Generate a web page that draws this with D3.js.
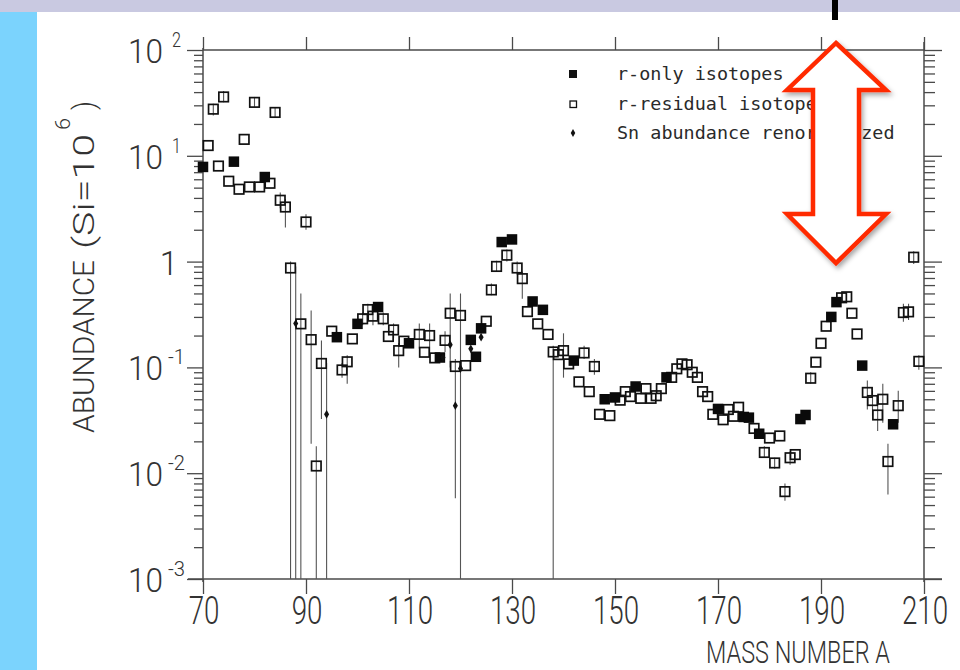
<!DOCTYPE html>
<html>
<head>
<meta charset="utf-8">
<script src="https://cdn.jsdelivr.net/npm/d3@7"></script>
<style>
  html, body { margin: 0; padding: 0; background: #fff; }
  svg { display: block; }
  .lbl { font-family: Roboto, "Open Sans", "Liberation Sans", sans-serif; font-weight: 300; fill: #333; }
  .leg { font-family: "DejaVu Sans Mono", "Liberation Mono", monospace; fill: #2a2a2a; }
</style>
</head>
<body>
<svg id="chart" width="960" height="670"></svg>
<script>
// ---------------- data ----------------
const xTicks = [70, 90, 110, 130, 150, 170, 190, 210];
const yMajor = [1e-3, 1e-2, 1e-1, 1, 10, 100];
const yTickLabels = [["10", "-3"], ["10", "-2"], ["10", "-1"], ["1", ""], ["10", "1"], ["10", "2"]];

// r-only isotopes (filled squares): [A, abundance]
const rOnly = [
  [70, 7.85], [76, 8.8], [82, 6.3], [96, 0.193], [100, 0.258], [104, 0.372],
  [110, 0.169], [116, 0.124], [122, 0.182], [123, 0.126], [124, 0.234],
  [128, 1.53], [130, 1.62], [134, 0.42], [136, 0.35], [142, 0.116],
  [148, 0.050], [150, 0.052], [154, 0.066], [160, 0.0805], [170, 0.0405],
  [175, 0.034], [176, 0.0335], [178, 0.0236], [186, 0.0325], [187, 0.0355],
  [192, 0.30], [193, 0.414], [198, 0.104], [204, 0.029]
];

// r-residual isotopes (open squares): [A, abundance]
const rResidual = [
  [71, 12.5], [72, 27.6], [73, 8.0], [74, 36], [75, 5.75], [77, 4.83], [78, 14.3],
  [79, 5.08], [80, 32], [81, 5.08], [83, 5.5], [84, 25.7], [85, 3.8], [86, 3.28],
  [87, 0.87], [89, 0.258], [90, 2.37], [91, 0.183], [92, 0.0117], [93, 0.109],
  [95, 0.22], [97, 0.0946], [98, 0.113], [99, 0.186], [101, 0.288], [102, 0.352],
  [103, 0.305], [105, 0.288], [106, 0.196], [107, 0.226], [108, 0.144], [109, 0.177],
  [112, 0.205], [113, 0.139], [114, 0.200], [115, 0.123], [117, 0.180], [118, 0.325],
  [119, 0.102], [120, 0.310], [121, 0.104], [125, 0.273], [126, 0.54], [127, 0.90],
  [129, 1.15], [131, 0.87], [132, 0.69], [133, 0.337], [135, 0.258], [137, 0.205],
  [138, 0.140], [139, 0.132], [140, 0.144], [141, 0.108], [143, 0.073], [144, 0.137],
  [145, 0.059], [146, 0.102], [147, 0.036], [149, 0.035], [151, 0.049], [152, 0.059],
  [153, 0.053], [155, 0.051], [156, 0.063], [157, 0.051], [158, 0.054], [159, 0.063],
  [161, 0.0805], [162, 0.097], [163, 0.108], [164, 0.106], [165, 0.090], [166, 0.0805],
  [167, 0.059], [168, 0.053], [169, 0.036], [171, 0.032], [172, 0.040], [173, 0.0345],
  [174, 0.042], [177, 0.0265], [179, 0.0157], [180, 0.0215], [181, 0.0125], [182, 0.0225],
  [183, 0.0067], [184, 0.014], [185, 0.015], [188, 0.079], [189, 0.112], [190, 0.169],
  [191, 0.245], [194, 0.455], [195, 0.465], [196, 0.325], [197, 0.207], [199, 0.058],
  [200, 0.0486], [201, 0.0355], [202, 0.050], [203, 0.0129], [205, 0.0435],
  [206, 0.33], [207, 0.335], [208, 1.10], [209, 0.114]
];

// Sn abundance renormalized (small diamonds): [A, abundance]
const snRenorm = [
  [88, 0.26], [94, 0.036], [116.6, 0.124], [118, 0.164], [119, 0.0435],
  [120, 0.0975], [122, 0.150], [124, 0.193]
];

// error bars: [A, low, high]
const errBars = [
  [72, 24, 31], [74, 32, 41], [80, 29, 36], [84, 23, 29], [85, 3.2, 4.5], [86, 2.1, 3.9],
  [87, 1e-4, 1.0], [88, 1e-4, 0.9], [89, 1e-4, 0.5], [90, 2.0, 2.8], [91, 0.019, 0.345],
  [92, 1e-4, 0.018], [93, 0.0325, 0.18], [94, 1e-4, 0.11], [97, 0.08, 0.11], [98, 0.07, 0.13],
  [101, 0.25, 0.33], [102, 0.30, 0.40], [103, 0.25, 0.36], [105, 0.25, 0.33], [107, 0.19, 0.26],
  [108, 0.10, 0.17], [112, 0.15, 0.26], [114, 0.13, 0.26], [117, 0.14, 0.22], [118, 0.10, 0.50],
  [119, 0.0058, 0.12], [120, 1e-4, 0.50], [126, 0.48, 0.62], [127, 0.80, 1.02], [129, 1.0, 1.3],
  [131, 0.75, 1.0], [132, 0.445, 0.80], [138, 1e-4, 0.16], [140, 0.08, 0.21], [144, 0.12, 0.16],
  [146, 0.085, 0.12], [179, 0.014, 0.018], [181, 0.011, 0.014], [183, 0.0055, 0.008],
  [184, 0.012, 0.016], [188, 0.07, 0.09], [199, 0.04, 0.075], [200, 0.035, 0.06],
  [201, 0.025, 0.05], [202, 0.03, 0.07], [203, 0.0063, 0.019], [205, 0.03, 0.06],
  [206, 0.27, 0.40], [207, 0.28, 0.40], [208, 0.95, 1.25], [209, 0.095, 0.13]
];

const legendItems = ["r-only isotopes", "r-residual isotopes", "Sn abundance renormalized"];

// ---------------- drawing ----------------
const svg = d3.select("#chart");
const W = 960, H = 670;

const x = d3.scaleLinear().domain([70, 210]).range([203, 924]);
const y = d3.scaleLog().domain([1e-3, 1e2]).range([579, 50]).clamp(true);

// frame decoration
svg.append("rect").attr("x", 0).attr("y", 0).attr("width", W).attr("height", H).attr("fill", "#fff");
svg.append("rect").attr("x", 0).attr("y", 12).attr("width", 37).attr("height", H - 12).attr("fill", "#7bd3fd");
svg.append("rect").attr("x", 0).attr("y", 0).attr("width", W).attr("height", 12).attr("fill", "#c9c9e1");
svg.append("rect").attr("x", 832).attr("y", 0).attr("width", 6).attr("height", 20).attr("fill", "#000");

const axisColor = "#4a4a4a";

// minor log ticks
const yMinor = [];
for (let e = -3; e < 2; e++) for (let m = 2; m <= 9; m++) yMinor.push(m * Math.pow(10, e));

function styleAxis(g) {
  g.select(".domain").remove();
  g.selectAll(".tick line").attr("stroke", axisColor).attr("stroke-width", 1.3);
}

// left axis
svg.append("g").attr("transform", "translate(203,0)")
  .call(d3.axisLeft(y).tickValues(yMinor).tickSize(9).tickFormat(""))
  .call(styleAxis);
svg.append("g").attr("transform", "translate(203,0)")
  .call(d3.axisLeft(y).tickValues(yMajor).tickSize(16).tickFormat(""))
  .call(styleAxis);
// right axis
svg.append("g").attr("transform", "translate(924,0)")
  .call(d3.axisRight(y).tickValues(yMinor).tickSize(11).tickFormat(""))
  .call(styleAxis);
svg.append("g").attr("transform", "translate(924,0)")
  .call(d3.axisRight(y).tickValues(yMajor).tickSize(18).tickFormat(""))
  .call(styleAxis);
// bottom axis
svg.append("g").attr("transform", "translate(0,579)")
  .call(d3.axisBottom(x).tickValues(xTicks).tickSize(15).tickFormat(""))
  .call(styleAxis);
// top axis
svg.append("g").attr("transform", "translate(0,50)")
  .call(d3.axisTop(x).tickValues(xTicks).tickSize(13).tickFormat(""))
  .call(styleAxis);

// axis lines
const lineG = svg.append("g").attr("stroke", axisColor).attr("stroke-width", 1.5);
lineG.append("line").attr("x1", 203).attr("x2", 203).attr("y1", 48).attr("y2", 582);
lineG.append("line").attr("x1", 924).attr("x2", 924).attr("y1", 42).attr("y2", 582);
lineG.append("line").attr("x1", 188).attr("x2", 942).attr("y1", 579).attr("y2", 579);
lineG.append("line").attr("x1", 203).attr("x2", 924).attr("y1", 50).attr("y2", 50);

// y tick labels
const yl = svg.append("g").attr("class", "lbl");
yMajor.forEach((v, i) => {
  const [base, sup] = yTickLabels[i];
  const yy = y(v);
  if (sup === "") {
    yl.append("text").attr("x", 178).attr("y", yy + 13).attr("text-anchor", "end")
      .attr("font-size", 33).text(base);
  } else {
    yl.append("text").attr("x", 128).attr("y", yy + 13)
      .attr("font-size", 33).attr("textLength", 35).attr("lengthAdjust", "spacingAndGlyphs").text(base);
    yl.append("text").attr("x", sup.length > 1 ? 168 : 172).attr("y", yy - 3)
      .attr("font-size", 20).attr("textLength", sup.length > 1 ? 17 : 9)
      .attr("lengthAdjust", "spacingAndGlyphs").text(sup);
  }
});

// x tick labels (horizontally condensed like the plotter font)
svg.append("g").attr("class", "lbl").selectAll("text").data(xTicks).join("text")
  .attr("transform", d => `translate(${x(d) + 1},624) scale(0.73,1)`)
  .attr("text-anchor", "middle").attr("font-size", 38).text(d => d);

// axis titles (rotated: x' = -y)
const yt = svg.append("g").attr("class", "lbl").attr("transform", "translate(94,0) rotate(-90)");
yt.append("text").attr("x", -433).attr("y", 0).attr("font-size", 30)
  .attr("textLength", 173).attr("lengthAdjust", "spacingAndGlyphs").text("ABUNDANCE");
yt.append("text").attr("x", -249).attr("y", 0).attr("font-size", 30)
  .attr("textLength", 115).attr("lengthAdjust", "spacingAndGlyphs").text("(Si=10");
yt.append("text").attr("x", -130).attr("y", -24).attr("font-size", 20)
  .attr("textLength", 12).attr("lengthAdjust", "spacingAndGlyphs").text("6");
yt.append("text").attr("x", -110).attr("y", 0).attr("font-size", 30)
  .attr("textLength", 9).attr("lengthAdjust", "spacingAndGlyphs").text(")");

svg.append("text").attr("class", "lbl").attr("x", 706).attr("y", 663)
  .attr("font-size", 32).attr("textLength", 184).attr("lengthAdjust", "spacingAndGlyphs")
  .text("MASS NUMBER A");

// error bars
svg.append("g").attr("stroke", "#555").attr("stroke-width", 1.1)
  .selectAll("line").data(errBars).join("line")
  .attr("x1", d => x(d[0])).attr("x2", d => x(d[0]))
  .attr("y1", d => y(d[1])).attr("y2", d => y(d[2]));

// open squares
const so = 9.5;
svg.append("g").selectAll("rect").data(rResidual).join("rect")
  .attr("x", d => x(d[0]) - so / 2).attr("y", d => y(d[1]) - so / 2)
  .attr("width", so).attr("height", so)
  .attr("fill", "none").attr("stroke", "#111").attr("stroke-width", 1.7);

// filled squares
const sf = 10.5;
svg.append("g").selectAll("rect").data(rOnly).join("rect")
  .attr("x", d => x(d[0]) - sf / 2).attr("y", d => y(d[1]) - sf / 2)
  .attr("width", sf).attr("height", sf).attr("fill", "#0a0a0a");

// diamonds
const diamond = d3.symbol().type(d3.symbolDiamond).size(22);
svg.append("g").selectAll("path").data(snRenorm).join("path")
  .attr("transform", d => `translate(${x(d[0])},${y(d[1])})`)
  .attr("d", diamond).attr("fill", "#111");

// legend
const lg = svg.append("g");
const legY = [74, 104, 133];
lg.append("rect").attr("x", 569).attr("y", legY[0] - 4).attr("width", 8).attr("height", 8).attr("fill", "#111");
lg.append("rect").attr("x", 570).attr("y", legY[1] - 3).attr("width", 6.5).attr("height", 6.5)
  .attr("fill", "none").attr("stroke", "#111").attr("stroke-width", 1.3);
lg.append("path").attr("transform", `translate(573,${legY[2]})`)
  .attr("d", d3.symbol().type(d3.symbolDiamond).size(18)).attr("fill", "#111");
lg.selectAll("text").data(legendItems).join("text").attr("class", "leg")
  .attr("x", 617).attr("y", (d, i) => legY[i] + 6).attr("font-size", 18.5)
  .attr("textLength", d => d.length * 11.1).attr("lengthAdjust", "spacingAndGlyphs")
  .text(d => d);

// red double arrow
const defs = svg.append("defs");
const f = defs.append("filter").attr("id", "shadow").attr("x", "-30%").attr("y", "-30%")
  .attr("width", "160%").attr("height", "160%");
f.append("feDropShadow").attr("dx", 2).attr("dy", 3).attr("stdDeviation", 2.5)
  .attr("flood-color", "#000").attr("flood-opacity", 0.35);
const arrowPts = [
  [836, 43], [886, 90], [859, 90], [859, 214], [886, 214], [836, 263],
  [787, 214], [813, 214], [813, 90], [787, 90]
];
svg.append("path").attr("d", d3.line()(arrowPts) + "Z")
  .attr("fill", "#fff").attr("stroke", "#ff2a00").attr("stroke-width", 4.5)
  .attr("stroke-linejoin", "miter").attr("filter", "url(#shadow)");
</script>
</body>
</html>
